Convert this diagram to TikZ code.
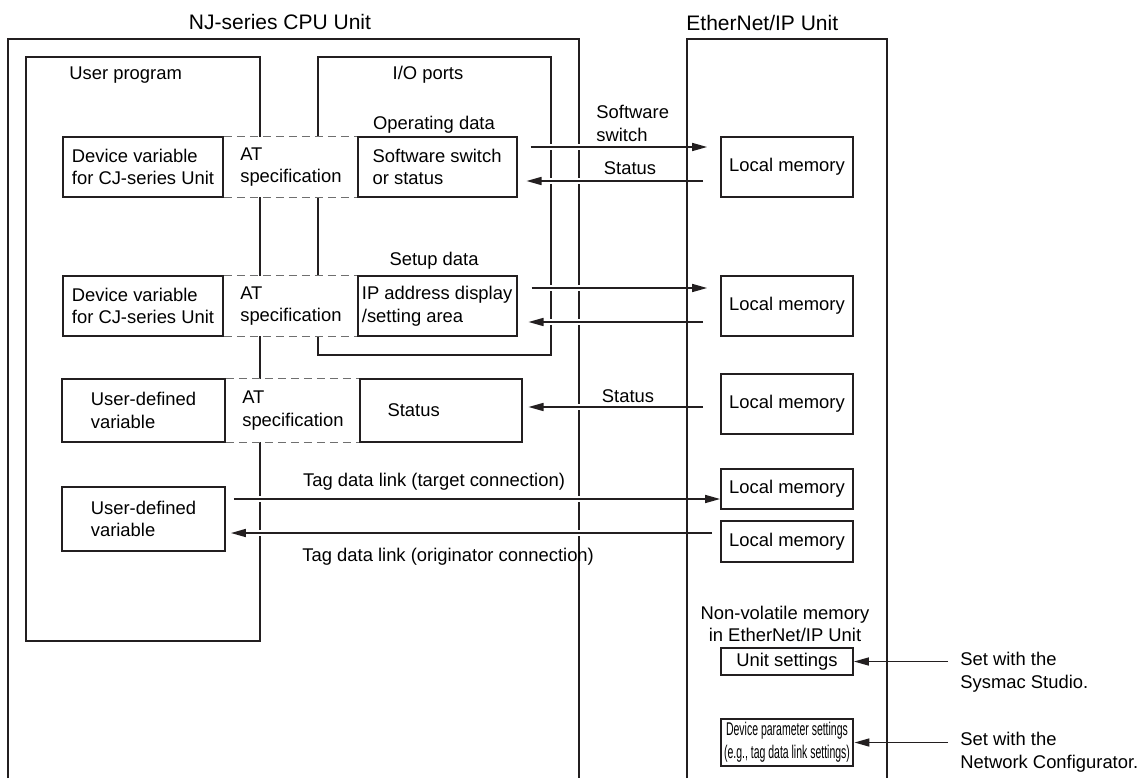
\documentclass[tikz,border=0pt]{standalone}
\usepackage{fontspec}
\setmainfont{Liberation Sans}
\usepackage{graphicx}
\usepackage{xcolor}
\usepackage{tikz}
\usetikzlibrary{arrows.meta, positioning}
\definecolor{unitink}{HTML}{231F20}
\definecolor{atgray}{HTML}{6F6F6F}

\begin{document}
\begin{tikzpicture}[
        x=0.5pt, y=-0.5pt,
        font=\fontsize{9.2}{11.3}\selectfont,
        unitline/.style={draw=unitink, line width=1.2pt},
        arealine/.style={draw=unitink, line width=1pt},
        varbox/.style={draw=unitink, line width=0.9pt, minimum height=30pt, inner sep=0pt, align=left},
        atbox/.style={fill=white, minimum width=66pt, minimum height=30pt, text width=50pt, inner sep=0pt, align=left},
        atline/.style={draw=atgray, line width=0.7pt, dash pattern=on 4pt off 2.5pt},
        membox/.style={draw=unitink, line width=0.9pt, minimum width=66pt, minimum height=30pt, inner sep=0pt},
        caption/.style={inner sep=0pt, align=left},
        title/.style={inner sep=0pt, font=\fontsize{10.5}{12.5}\selectfont},
        arrow/.style={-{Triangle[length=7.5pt, width=4pt]}, draw=unitink, line width=0.8pt, preaction={draw=white, line width=3pt, -}}
    ]
        \useasboundingbox (0,0) rectangle (1141,778);

        \draw [unitline] (8,778) -- (8,39) -- (579,39) -- (579,778);
        \draw [arealine] (26,57) rectangle (260,641);
        \draw [arealine] (318,57) rectangle (551,355);

        \node (cpu) [title] at (280,22) {NJ-series CPU Unit};
        \node (eip) [title, anchor=west] at (686,23) {EtherNet/IP Unit};
        \node (prog) [caption, anchor=west] at (69,75) {User program};
        \node (ports) [caption] at (428,75) {I/O ports};
        \node (opdata) [caption] at (434,125) {Operating data};
        \node (setup) [caption] at (434,261) {Setup data};

        \node (dev1) [varbox, minimum width=80pt] at (143,167) {Device variable\\for CJ-series Unit};
        \node (at1) [atbox, right=0pt of dev1] {AT\\specification};
        \node (sw) [varbox, minimum width=79.5pt, right=0pt of at1] {Software switch\\or status};

        \node (dev2) [varbox, minimum width=80pt] at (143,306) {Device variable\\for CJ-series Unit};
        \node (at2) [atbox, right=0pt of dev2] {AT\\specification};
        \node (ip) [varbox, minimum width=79.5pt, right=0pt of at2] {IP address display\\/setting area};

        \node (udv1) [varbox, minimum width=81.5pt, minimum height=31.5pt] at (143.5,410.5) {User-defined\\variable};
        \node (at3) [atbox, minimum height=31.5pt, right=0pt of udv1] {AT\\specification};
        \node (st) [varbox, minimum height=31.5pt, text width=53pt, inner xsep=14pt, right=0pt of at3] {Status};

        \node (udv2) [varbox, minimum width=81.5pt, minimum height=32pt] at (143.5,519) {User-defined\\variable};

        \foreach \n in {at1,at2,at3} {
            \draw [atline] (\n.north west) -- (\n.north east);
            \draw [atline] (\n.south west) -- (\n.south east);
        }

        \node (lm1) [membox] at (787,167) {Local memory};
        \node (lm2) [membox] at (787,306) {Local memory};
        \node (lm3) [membox] at (787,404) {Local memory};
        \node (lm4) [membox, minimum height=20pt] at (787,489) {Local memory};
        \node (lm5) [membox, minimum height=20.5pt] at (787,541.5) {Local memory};
        \node (nvm) [caption, align=center] at (785,624) {Non-volatile memory\\in EtherNet/IP Unit};
        \node (us) [membox, minimum height=13.5pt] at (787,661.5) {Unit settings};
        \node (dp) [membox, minimum height=23.5pt, line width=1.4pt, align=center] at (787,742.5) {\scalebox{0.57}[1]{Device parameter settings}\\\scalebox{0.57}[1]{(e.g., tag data link settings)}};

        \node (swlbl) [caption, anchor=west] at (596,123.5) {Software\\switch};
        \node (stlbl1) [caption] at (630,168) {Status};
        \node (stlbl2) [caption] at (628,396) {Status};
        \node (tgt) [caption] at (434,482) {Tag data link (target connection)};
        \node (org) [caption, anchor=west] at (302,557) {Tag data link (originator connection)};
        \node (sys) [caption, anchor=west] at (960,672.5) {Set with the\\Sysmac Studio.};
        \node (net) [caption, anchor=west] at (960,752.5) {Set with the\\Network Configurator.};
        \coordinate (sysin) at ([xshift=-6pt]sys.west);
        \coordinate (netin) at ([xshift=-6pt]net.west);

        \draw [arrow] ([xshift=6.5pt, yshift=10pt]sw.east) -- ([xshift=-6.5pt, yshift=10pt]lm1.west);
        \draw [arrow] ([xshift=-8.5pt, yshift=-7pt]lm1.west) -- ([xshift=4.5pt, yshift=-7pt]sw.east);
        \draw [arrow] ([xshift=7pt, yshift=9pt]ip.east) -- ([xshift=-6.5pt, yshift=9pt]lm2.west);
        \draw [arrow] ([xshift=-8.5pt, yshift=-8pt]lm2.west) -- ([xshift=5.5pt, yshift=-8pt]ip.east);
        \draw [arrow] ([xshift=-8.5pt, yshift=-1.5pt]lm3.west) -- ([xshift=3pt, yshift=1.75pt]st.east);
        \draw [arrow] ([xshift=4pt, yshift=10pt]udv2.east) -- ([yshift=-5pt]lm4.west);
        \draw [arrow] ([xshift=-4pt, yshift=4.25pt]lm5.west) -- ([xshift=2.5pt, yshift=-7pt]udv2.east);
        \draw [arrow] (sysin |- us.east) -- (us.east);
        \draw [arrow] (netin |- dp.east) -- (dp.east);

        \draw [unitline] (687,778) -- (687,39) -- (887,39) -- (887,778);
    \end{tikzpicture}
\end{document}
